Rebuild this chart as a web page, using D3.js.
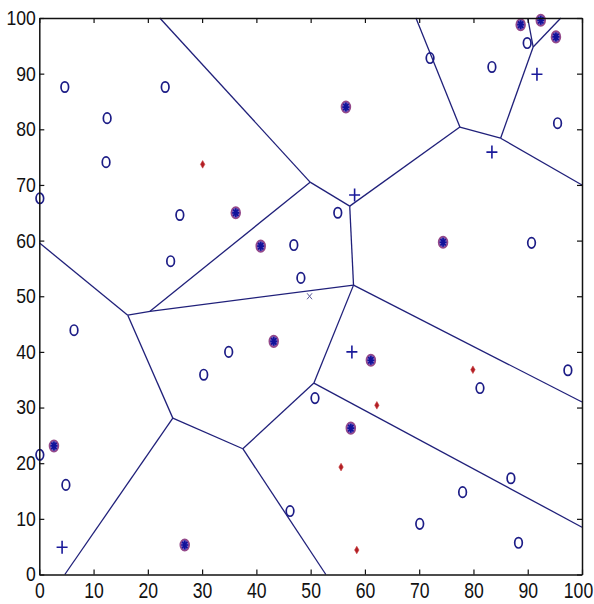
<!DOCTYPE html>
<html>
<head>
<meta charset="utf-8">
<script src="https://cdn.jsdelivr.net/npm/d3@7"></script>
<style>
  body { margin: 0; background: #fff; }
  svg { display: block; }
</style>
</head>
<body>
<div id="chart"></div>
<script>
// tick values on both axes
const tickVals = [0, 10, 20, 30, 40, 50, 60, 70, 80, 90, 100];

// open circles
const circlePts = [
  [4.7, 87.6], [23.2, 87.6], [12.5, 82.0], [12.3, 74.1], [0.1, 67.6],
  [25.9, 64.6], [24.2, 56.3], [46.9, 59.2], [55.0, 65.0], [48.2, 53.3],
  [6.4, 43.9], [34.9, 40.0], [30.3, 35.9], [50.8, 31.7], [0.1, 21.5],
  [4.9, 16.1], [46.2, 11.4], [70.1, 9.1], [78.0, 14.8], [86.9, 17.3],
  [88.3, 5.7], [81.2, 33.5], [97.4, 36.7], [90.7, 59.6], [95.5, 81.1],
  [83.4, 91.2], [72.0, 92.8], [89.9, 95.5]
];

// circles with asterisk
const starPts = [
  [56.5, 84.0], [36.2, 65.0], [40.8, 59.0], [74.4, 59.7], [43.2, 41.9],
  [61.1, 38.5], [57.4, 26.3], [2.7, 23.1], [26.8, 5.3], [88.7, 98.8],
  [92.4, 99.6], [95.2, 96.6]
];

// plus markers
const plusPts = [[58.1, 68.2], [91.7, 89.9], [83.4, 75.9], [57.6, 40.0], [4.2, 4.9]];

// small red points
const redPts = [[30.1, 73.7], [79.9, 36.8], [62.2, 30.4], [55.6, 19.3], [58.5, 4.4]];

// x marker
const crossPts = [[49.8, 50.0]];

// voronoi vertices
const vorVertices = {
  A: [49.9, 70.5], B: [16.3, 46.6], C: [20.4, 47.3], D: [57.2, 66.2],
  E: [57.9, 52.0], F: [24.6, 28.1], G: [37.5, 22.6], H: [50.6, 34.4],
  I: [77.5, 80.4], J: [85.0, 78.4], K: [91.0, 94.8]
};

// voronoi edges: vertex names or [x, y] end points on the border
const vorEdges = [
  [[22.2, 100], "A"], ["A", "C"], ["C", "B"], ["C", "E"], ["A", "D"],
  ["D", "E"], ["D", "I"], ["I", [69.4, 100]], ["I", "J"], ["J", [100, 70.0]],
  ["J", "K"], ["K", [90.0, 100]], ["K", [96.1, 100]], ["B", [0, 59.6]],
  ["B", "F"], ["F", [4.7, 0]], ["F", "G"], ["G", [52.8, 0]], ["G", "H"],
  ["H", "E"], ["H", [100, 8.5]], ["E", [100, 31.0]]
];

const W = 594, H = 604;
const margin = { top: 18, right: 12, bottom: 29.5, left: 39.3 };
const width = W - margin.left - margin.right,
  height = H - margin.top - margin.bottom;

const svg = d3.select("#chart")
  .append("svg")
  .attr("width", W)
  .attr("height", H)
  .append("g")
  .attr("transform", `translate(${margin.left}, ${margin.top})`);

const x = d3.scaleLinear().domain([0, 100]).range([0, width]);
const y = d3.scaleLinear().domain([0, 100]).range([height, 0]);

const navy = "#1c1c86";
const labelFont = "'Liberation Sans', Arial, sans-serif";

// voronoi edges
const pt = v => (typeof v === "string" ? vorVertices[v] : v);
svg.selectAll(".edge")
  .data(vorEdges)
  .join("line")
  .attr("class", "edge")
  .attr("x1", d => x(pt(d[0])[0]))
  .attr("y1", d => y(pt(d[0])[1]))
  .attr("x2", d => x(pt(d[1])[0]))
  .attr("y2", d => y(pt(d[1])[1]))
  .attr("stroke", "#20207a")
  .attr("stroke-width", 1.3);

// open circles
svg.selectAll(".circ")
  .data(circlePts)
  .join("ellipse")
  .attr("class", "circ")
  .attr("cx", d => x(d[0]))
  .attr("cy", d => y(d[1]))
  .attr("rx", 3.8)
  .attr("ry", 5.2)
  .attr("fill", "none")
  .attr("stroke", navy)
  .attr("stroke-width", 1.7);

// circle + asterisk
const stars = svg.selectAll(".star")
  .data(starPts)
  .join("g")
  .attr("class", "star")
  .attr("transform", d => `translate(${x(d[0])}, ${y(d[1])})`);
stars.append("ellipse")
  .attr("rx", 4.4)
  .attr("ry", 5.7)
  .attr("fill", "#7a6ac8")
  .attr("stroke", "#93488a")
  .attr("stroke-width", 1.7);
stars.append("path")
  .attr("d", "M-3.5,0H3.5M0,-4.5V4.5M-2.6,-3.3L2.6,3.3M-2.6,3.3L2.6,-3.3")
  .attr("stroke", "#12129a")
  .attr("stroke-width", 1.7);

// plus markers
svg.selectAll(".plus")
  .data(plusPts)
  .join("path")
  .attr("class", "plus")
  .attr("transform", d => `translate(${x(d[0])}, ${y(d[1])})`)
  .attr("d", "M-5.5,0H5.5M0,-6.5V6.5")
  .attr("stroke", "#1a1a9a")
  .attr("stroke-width", 1.6);

// red points
svg.selectAll(".red")
  .data(redPts)
  .join("path")
  .attr("class", "red")
  .attr("transform", d => `translate(${x(d[0])}, ${y(d[1])})`)
  .attr("d", "M0,-3.8L2.2,0L0,3.8L-2.2,0Z")
  .attr("fill", "#b21e24")
  .attr("stroke", "#c84040")
  .attr("stroke-width", 0.6);

// x marker
svg.selectAll(".cross")
  .data(crossPts)
  .join("path")
  .attr("class", "cross")
  .attr("transform", d => `translate(${x(d[0])}, ${y(d[1])})`)
  .attr("d", "M-2.5,-3L2.5,3M-2.5,3L2.5,-3")
  .attr("stroke", "#5a5a9a")
  .attr("stroke-width", 1);

// axes
const xAxis = svg.append("g")
  .attr("transform", `translate(0, ${height})`)
  .call(d3.axisBottom(x).tickValues(tickVals).tickSizeInner(-5).tickSizeOuter(0).tickPadding(8));
xAxis.selectAll("text")
  .attr("transform", "scale(0.8, 1)")
  .attr("dx", d => (d === 100 ? -5 : 0))
  .style("font-family", labelFont)
  .style("font-size", "22px")
  .attr("fill", "#111");

const yAxis = svg.append("g")
  .call(d3.axisLeft(y).tickValues(tickVals).tickSizeInner(-5).tickSizeOuter(0).tickPadding(4));
yAxis.selectAll("text")
  .attr("transform", "scale(0.88, 1)")
  .style("font-family", labelFont)
  .style("font-size", "20px")
  .attr("fill", "#111");

svg.append("g")
  .call(d3.axisTop(x).tickValues(tickVals).tickSizeInner(-5).tickSizeOuter(0).tickFormat(""));
svg.append("g")
  .attr("transform", `translate(${width}, 0)`)
  .call(d3.axisRight(y).tickValues(tickVals).tickSizeInner(-5).tickSizeOuter(0).tickFormat(""));

svg.selectAll(".domain").attr("stroke", "#111").attr("stroke-width", 1.5);
svg.selectAll(".tick line").attr("stroke", "#111").attr("stroke-width", 1.2);
</script>
</body>
</html>
